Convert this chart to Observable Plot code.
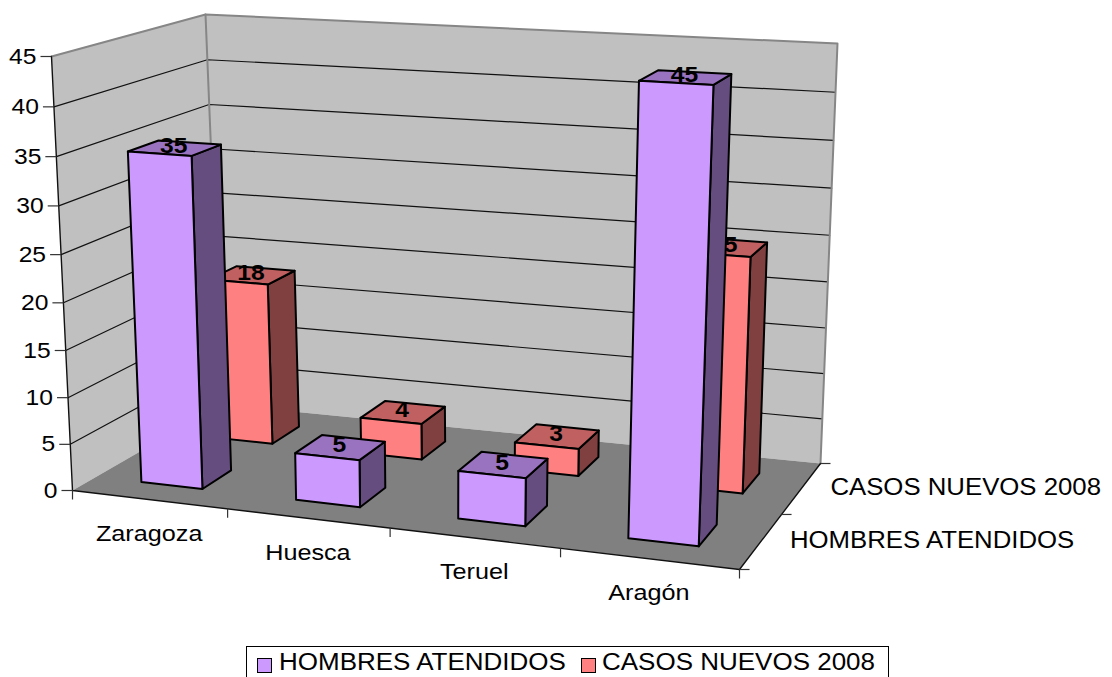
<!DOCTYPE html>
<html><head><meta charset="utf-8">
<script src="https://cdn.jsdelivr.net/npm/d3@7"></script>
<script src="https://cdn.jsdelivr.net/npm/@observablehq/plot@0.6"></script>
<style>
html,body{margin:0;padding:0;background:#fff;overflow:hidden;width:1112px;height:677px}
#legend{position:absolute;left:246px;top:646px;width:641px;height:30px;border:1px solid #000;box-sizing:content-box;font:23px "Liberation Sans",Arial,sans-serif;color:#000;white-space:nowrap}
#legend span{position:absolute;top:2px;transform:scaleX(1.13);transform-origin:left center}
#legend i{position:absolute;top:11px;width:13px;height:13px;border:1.5px solid #000;box-sizing:content-box}
</style></head><body>
<div id="chart"></div>
<div id="legend"></div>
<script>
const categories = ["Zaragoza","Huesca","Teruel","Aragón"];
const seriesNames = ["HOMBRES ATENDIDOS","CASOS NUEVOS 2008"];
const hombres = [35,5,5,45];
const casos = [18,4,3,25];
const yTicks = [0,5,10,15,20,25,30,35,40,45];

const faceColors = [
  {front:"#CC99FF",top:"#9A73C0",side:"#664D80"},
  {front:"#FF8080",top:"#C06060",side:"#804040"}
];

// Camera: box corners on screen, with foreshortening along each axis
const floorQ = [[72,490],[739,569],[820,463],[221,404]];
const topQ   = [[51,56],[757,96],[837,43],[205,14]];
const vMax = 45, kV = 1.05, kU = 1.1, kD = 0.926, gapU = 0.3, gapD = 0.3;
const warp = (r,k)=>r/(r+k*(1-r));
const bilinear = (q,s,t)=>[0,1].map(c=>(1-t)*((1-s)*q[0][c]+s*q[1][c])+t*((1-s)*q[3][c]+s*q[2][c]));
function project(u,d,v){
  const s=warp(u/categories.length,kU),t=warp(d/seriesNames.length,kD);
  const a=bilinear(floorQ,s,t),b=bilinear(topQ,s,t),f=warp(v/vMax,kV);
  return {x:a[0]+(b[0]-a[0])*f,y:a[1]+(b[1]-a[1])*f};
}
const lineOf=(pts,o)=>Plot.line(pts,{x:"x",y:"y",curve:"linear",...o});
const poly = (pts,o)=>lineOf([...pts,pts[0]].map(p=>project(...p)),o);
const seg = (pts,o)=>lineOf(pts.map(p=>project(...p)),o);
const nU=categories.length,nD=seriesNames.length;

const marks=[];
// walls and floor
marks.push(poly([[0,0,0],[0,nD,0],[0,nD,vMax],[0,0,vMax]],{fill:"#C0C0C0",stroke:"none"}));
marks.push(poly([[0,nD,0],[nU,nD,0],[nU,nD,vMax],[0,nD,vMax]],{fill:"#C0C0C0",stroke:"none"}));
marks.push(poly([[0,0,0],[nU,0,0],[nU,nD,0],[0,nD,0]],{fill:"#808080",stroke:"none"}));
// grid
for(const v of yTicks.filter(v=>v>0&&v<vMax))
  marks.push(seg([[0,0,v],[0,nD,v],[nU,nD,v]],{stroke:"#111",strokeWidth:1.2}));
// wall outlines
marks.push(seg([[0,0,vMax],[0,nD,vMax],[nU,nD,vMax],[nU,nD,0]],{stroke:"#868686",strokeWidth:2}));
marks.push(seg([[0,nD,vMax],[0,nD,0]],{stroke:"#868686",strokeWidth:2}));
marks.push(seg([[0,0,vMax],[0,0,0],[nU,0,0],[nU,nD,0]],{stroke:"#111",strokeWidth:1.4}));

// axis ticks and labels
const tickStyle={stroke:"#333",strokeWidth:1.2};
const yAxis=yTicks.map(v=>({v,...project(0,0,v)}));
marks.push(Plot.link(yAxis,{x1:d=>d.x-11,x2:"x",y1:"y",y2:"y",...tickStyle}));
marks.push(Plot.text(yAxis,{x:d=>d.x-15,y:"y",text:"v",textAnchor:"end",fontSize:22,fill:"#000"}));
const catTicks=d3.range(nU+1).map(u=>project(u,0,0));
marks.push(Plot.link(catTicks,{x1:"x",x2:"x",y1:"y",y2:d=>d.y+9,...tickStyle}));
const depthTicks=d3.range(nD+1).map(d=>project(nU,d,0));
marks.push(Plot.link(depthTicks,{x1:"x",x2:d=>d.x+10,y1:"y",y2:"y",...tickStyle}));
marks.push(Plot.text(categories.map((c,i)=>({c,...project(i+.5,0,0)})),{x:"x",y:d=>d.y+34,text:"c",fontSize:22.5,fill:"#000"}));
marks.push(Plot.text(seriesNames.map((c,j)=>({c,...project(nU,j+.5,0)})),{x:d=>d.x+29,y:d=>d.y-1,text:"c",textAnchor:"start",fontSize:23,fill:"#000"}));

// bars, back row first
[[1,casos],[0,hombres]].forEach(([j,vals])=>{
  const col=faceColors[j];
  vals.forEach((v,i)=>{
    const u0=i+gapU,u1=i+1-gapU,d0=j+gapD,d1=j+1-gapD;
    const st={stroke:"#000",strokeWidth:2,strokeLinejoin:"round"};
    marks.push(poly([[u1,d0,0],[u1,d1,0],[u1,d1,v],[u1,d0,v]],{fill:col.side,...st}));
    marks.push(poly([[u0,d0,v],[u1,d0,v],[u1,d1,v],[u0,d1,v]],{fill:col.top,...st}));
    marks.push(poly([[u0,d0,0],[u1,d0,0],[u1,d0,v],[u0,d0,v]],{fill:col.front,...st}));
    const c=project((u0+u1)/2,(d0+d1)/2,v);
    marks.push(Plot.text([{v,...c}],{x:d=>d.x-1,y:d=>d.y-2,text:"v",fontSize:22,fontWeight:"bold",fill:"#000"}));
  });
});

const chart=Plot.plot({
  width:1112,height:645,margin:0,
  style:{fontFamily:'"Liberation Sans",Arial,sans-serif',background:"#fff"},
  x:{domain:[0,1112],range:[0,1112],axis:null},
  y:{domain:[0,645],range:[0,645],axis:null},
  marks
});
document.getElementById("chart").appendChild(chart);
// the reference's text is drawn wider than the font's natural width
chart.querySelectorAll("text").forEach(t=>{
  t.setAttribute("textLength",t.getComputedTextLength()*1.12);
  t.setAttribute("lengthAdjust","spacingAndGlyphs");
});

const lg=document.getElementById("legend");
[[10,32],[334,355]].forEach(([sx,tx],j)=>{
  const i=document.createElement("i");i.style.left=sx+"px";i.style.background=faceColors[j].front;lg.appendChild(i);
  const s=document.createElement("span");s.style.left=tx+"px";s.textContent=seriesNames[j];lg.appendChild(s);
});
</script>
</body></html>
